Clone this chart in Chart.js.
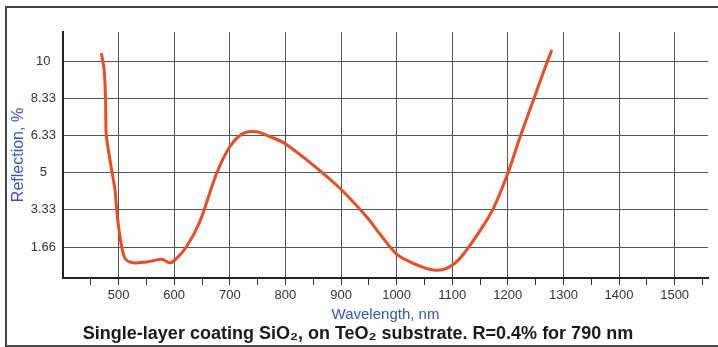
<!DOCTYPE html>
<html>
<head>
<meta charset="utf-8">
<script src="https://cdn.jsdelivr.net/npm/chart.js@4/dist/chart.umd.min.js"></script>
<style>
  html, body { margin: 0; padding: 0; background: #fff; }
  #wrap { position: relative; width: 718px; height: 347px; }
  #frame {
    position: absolute; left: 5px; top: 6px; width: 730px; height: 337px;
    border: 2px solid #444; pointer-events: none;
  }
</style>
</head>
<body>
<div id="wrap">
  <canvas id="myChart" width="718" height="347"></canvas>
  <div id="frame"></div>
</div>
<script>
const wavelength = [469, 474, 476.5, 477, 478, 487.5, 493.5, 496.5, 502.5, 511.5, 526.5, 550, 562, 577.5, 592, 601,
    622, 646, 676, 700, 724, 748, 772, 799, 850, 898, 946, 970, 1000, 1030, 1066, 1090, 1114, 1150, 1174, 1200,
    1222, 1246, 1261, 1279];
const reflection = [10.35, 9.6, 8.34, 7.4, 6.64, 5.12, 4.22, 3.36, 2.13, 1.16, 0.96, 1.0, 1.05, 1.12, 0.96, 1.08,
    1.68, 2.8, 4.95, 6.16, 6.76, 6.83, 6.61, 6.31, 5.34, 4.3, 3.02, 2.25, 1.35, 0.94, 0.64, 0.71, 1.16, 2.4, 3.4, 4.97,
    6.6, 8.25, 9.3, 10.5];

const yTickValues = [1.667, 3.333, 5, 6.667, 8.333, 10];
const yTickLabels = ['1.66', '3.33', '5', '6.33', '8.33', '10'];
const xTickValues = [450, 500, 550, 600, 650, 700, 750, 800, 850, 900, 950, 1000, 1050, 1100, 1150, 1200,
    1250, 1300, 1350, 1400, 1450, 1500, 1550];

const titleText = 'Single-layer coating SiO\u2082, on TeO\u2082 substrate. R=0.4% for 790 nm';
const fontFamily = 'Liberation Sans, Arial, sans-serif';

new Chart(document.getElementById('myChart'), {
    type: 'scatter',
    data: {
        datasets: [
            {
                data: wavelength.map((w, i) => ({ x: w, y: reflection[i] })),
                showLine: true,
                borderColor: '#f04a20',
                borderWidth: 3,
                pointRadius: 0,
                tension: 0.3,
            },
        ],
    },
    options: {
        responsive: false,
        animation: false,
        layout: {
            padding: { left: 8, right: 10, top: 32, bottom: 0 }
        },
        plugins: {
            legend: { display: false },
            tooltip: { enabled: false },
            title: {
                display: true,
                position: 'bottom',
                text: titleText,
                color: '#1a1a1a',
                font: { family: fontFamily, size: 18, weight: 'bold' },
                padding: { top: 0, bottom: 2 },
            },
        },
        scales: {
            x: {
                type: 'linear',
                min: 400,
                max: 1560,
                afterBuildTicks: (scale) => {
                    scale.ticks = xTickValues.map((v) => ({ value: v }));
                },
                afterFit: (scale) => { scale.height = 45.4; },
                ticks: {
                    autoSkip: false,
                    maxRotation: 0,
                    padding: 3,
                    color: '#333',
                    font: { family: fontFamily, size: 13 },
                    callback: (v) => (v % 100 === 0 ? String(v) : ''),
                },
                grid: {
                    color: (ctx) => (ctx.tick && ctx.tick.value % 100 === 0 ? '#555' : 'rgba(0,0,0,0)'),
                    tickColor: '#333',
                    tickLength: 7,
                    lineWidth: 1,
                },
                border: { color: '#222', width: 2 },
                title: {
                    display: true,
                    text: 'Wavelength, nm',
                    color: '#2f55c8',
                    font: { family: fontFamily, size: 15 },
                    padding: { top: 0, bottom: 0 },
                },
            },
            y: {
                min: 0.28,
                max: 11.3,
                afterBuildTicks: (scale) => {
                    scale.ticks = yTickValues.map((v) => ({ value: v }));
                },
                afterFit: (scale) => { scale.width = 55; },
                ticks: {
                    crossAlign: 'center',
                    padding: 7,
                    color: '#333',
                    font: { family: fontFamily, size: 13 },
                    callback: (v) => {
                        const i = yTickValues.findIndex((t) => Math.abs(t - v) < 0.01);
                        return i >= 0 ? yTickLabels[i] : '';
                    },
                },
                grid: {
                    color: '#555',
                    lineWidth: 1,
                    drawTicks: false,
                },
                border: { color: '#222', width: 2 },
                title: {
                    display: true,
                    text: 'Reflection, %',
                    color: '#2f55c8',
                    font: { family: fontFamily, size: 16 },
                    padding: { top: 1, bottom: 0 },
                },
            },
        },
    },
});
</script>
</body>
</html>
